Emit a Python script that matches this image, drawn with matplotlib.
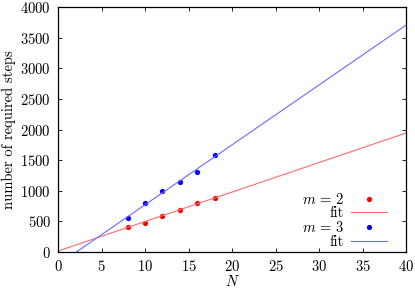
import numpy as np
import matplotlib
matplotlib.use("Agg")
import matplotlib.pyplot as plt

# data
N = [8, 10, 12, 14, 16, 18]
steps_m2 = [415, 480, 595, 680, 800, 880]
steps_m3 = [550, 800, 1000, 1145, 1300, 1590]
x_range = [0, 40]
y_range = [0, 4000]

plt.rcParams["font.family"] = ["cmr10", "DejaVu Serif"]
plt.rcParams["mathtext.fontset"] = "cm"
plt.rcParams["axes.formatter.use_mathtext"] = True
plt.rcParams["font.size"] = 10.5

fig = plt.figure(figsize=(4.15, 2.89), dpi=100)
ax = fig.add_axes([58 / 415, 1 - 252 / 289, 348 / 415, 245 / 289])

xs = np.array(x_range, dtype=float)
for vals, c_pt, c_ln, lab in [(steps_m2, "#ff0000", "#ff6a6a", r"$m\,=\,2$"),
                              (steps_m3, "#0000ff", "#6a6aff", r"$m\,=\,3$")]:
    a, b = np.polyfit(N, vals, 1)
    ax.plot(N, vals, "o", color=c_pt, ms=3.8, mew=0, label=lab)
    ax.plot(xs, a * xs + b, color=c_ln, lw=0.8, label="fit")

ax.set_xlim(*x_range)
ax.set_ylim(*y_range)
ax.set_xticks(np.arange(0, 41, 5))
ax.set_yticks(np.arange(0, 4001, 500))
ax.tick_params(direction="in", top=True, right=True, length=3, width=0.6, pad=5)
for s in ax.spines.values():
    s.set_linewidth(0.9)
ax.set_xlabel("$N$", labelpad=0)
ax.set_ylabel("number of required steps", labelpad=3)

ax.legend(loc="lower right", bbox_to_anchor=(0.955, 0.0), frameon=False,
          markerfirst=False, handlelength=2.5, handletextpad=0.5,
          labelspacing=0.0, borderpad=0.2, borderaxespad=0.0, numpoints=1)

fig.savefig("out.png", dpi=100)
